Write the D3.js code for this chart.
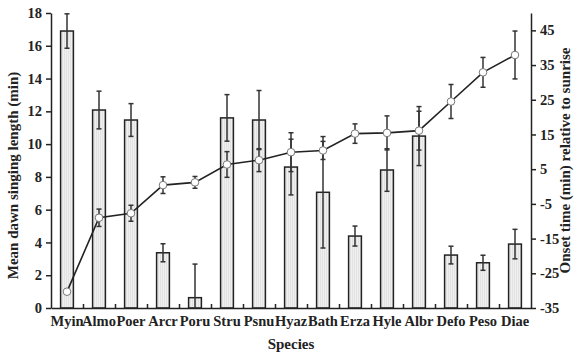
<!DOCTYPE html>
<html>
<head>
<meta charset="utf-8">
<script src="https://cdn.jsdelivr.net/npm/d3@7"></script>
<style>
  body { margin: 0; background: #fff; }
  svg text { font-family: 'Liberation Serif', 'Times New Roman', serif; font-weight: bold; fill: #222; }
</style>
</head>
<body>
<div id="chart"></div>
<script>
const species = ['Myin', 'Almo', 'Poer', 'Arcr', 'Poru', 'Stru', 'Psnu', 'Hyaz', 'Bath', 'Erza', 'Hyle', 'Albr', 'Defo', 'Peso', 'Diae']
// mean dawn singing length (min), left axis
const singLength = [16.9, 12.08, 11.47, 3.37, 0.63, 11.6, 11.47, 8.6, 7.06, 4.39, 8.42, 10.49, 3.23, 2.76, 3.9]
const singLengthErr = [1.05, 1.15, 1.0, 0.55, 2.05, 1.42, 1.8, 1.7, 3.4, 0.61, 1.3, 1.8, 0.54, 0.46, 0.9]
// onset time (min) relative to sunrise, right axis
const onset = [-30.3, -9.0, -7.7, 0.4, 1.2, 6.35, 7.6, 9.9, 10.4, 15.25, 15.45, 16.1, 24.5, 32.9, 37.9]
const onsetErr = [0, 2.5, 2.3, 2.4, 1.7, 3.7, 3.3, 5.6, 2.6, 2.8, 4.9, 5.6, 4.9, 4.3, 6.9]
const leftTicks = [0, 2, 4, 6, 8, 10, 12, 14, 16, 18]
const rightTicks = [-35, -25, -15, -5, 5, 15, 25, 35, 45]

const width = 574
const height = 353
const margin = { top: 13, right: 43, bottom: 45, left: 51 }
const bottom = height - margin.bottom
const ink = '#222'

const svg = d3.select('#chart')
  .append('svg')
  .attr('width', width)
  .attr('height', height)

const defs = svg.append('defs')
const pat = defs.append('pattern')
  .attr('id', 'stripes')
  .attr('patternUnits', 'userSpaceOnUse')
  .attr('width', 2)
  .attr('height', 4)
pat.append('rect').attr('width', 2).attr('height', 4).attr('fill', '#f0f0f0')
pat.append('rect').attr('width', 1).attr('height', 4).attr('fill', '#e2e2e2')

const x = d3.scaleBand()
  .domain(species)
  .range([margin.left, width - margin.right])

const yL = d3.scaleLinear().domain([0, 18]).range([bottom, margin.top])
const yR = d3.scaleLinear().domain([-35, 50]).range([bottom, margin.top])

const barW = x.bandwidth() * 0.4
const cx = d => x(d) + x.bandwidth() / 2
const cap = 2.5

const data = species.map((s, i) => ({
  s, bar: singLength[i], barErr: singLengthErr[i], onset: onset[i], onsetErr: onsetErr[i]
}))

// bars
svg.append('g')
  .selectAll('rect')
  .data(data)
  .join('rect')
  .attr('x', d => cx(d.s) - barW / 2)
  .attr('width', barW)
  .attr('y', d => yL(d.bar))
  .attr('height', d => bottom - yL(d.bar))
  .attr('fill', 'url(#stripes)')
  .attr('stroke', ink)
  .attr('stroke-width', 1.5)

function errorBars(g, items, lo, hi) {
  const e = g.selectAll('g')
    .data(items)
    .join('g')
    .attr('stroke', '#333')
    .attr('stroke-width', 1.5)
  e.append('line')
    .attr('x1', d => cx(d.s)).attr('x2', d => cx(d.s))
    .attr('y1', lo).attr('y2', hi)
  e.append('line')
    .attr('x1', d => cx(d.s) - cap).attr('x2', d => cx(d.s) + cap)
    .attr('y1', hi).attr('y2', hi)
  e.filter(d => lo(d) < bottom - 0.5).append('line')
    .attr('x1', d => cx(d.s) - cap).attr('x2', d => cx(d.s) + cap)
    .attr('y1', lo).attr('y2', lo)
}

svg.append('g').call(errorBars, data,
  d => yL(Math.max(0, d.bar - d.barErr)),
  d => yL(d.bar + d.barErr))

// onset line
svg.append('path')
  .datum(data)
  .attr('fill', 'none')
  .attr('stroke', ink)
  .attr('stroke-width', 1.6)
  .attr('d', d3.line().x(d => cx(d.s)).y(d => yR(d.onset)))

svg.append('g').call(errorBars, data.filter(d => d.onsetErr > 0),
  d => yR(d.onset - d.onsetErr),
  d => yR(d.onset + d.onsetErr))

svg.append('g')
  .selectAll('circle')
  .data(data)
  .join('circle')
  .attr('cx', d => cx(d.s))
  .attr('cy', d => yR(d.onset))
  .attr('r', 3.8)
  .attr('fill', '#fff')
  .attr('stroke', '#777')
  .attr('stroke-width', 1)

// axes
const styleAxis = g => g
  .call(g => g.selectAll('.domain, line').attr('stroke', ink).attr('stroke-width', 1.5))
  .call(g => g.selectAll('text').attr('font-size', 14.5).style('font-family', null))

svg.append('g')
  .attr('transform', `translate(${margin.left},0)`)
  .call(d3.axisLeft(yL).tickValues(leftTicks).tickSize(5).tickSizeOuter(0).tickPadding(4))
  .call(styleAxis)

svg.append('g')
  .attr('transform', `translate(${width - margin.right},0)`)
  .call(d3.axisRight(yR).tickValues(rightTicks).tickSize(5).tickSizeOuter(0).tickPadding(4)
    .tickFormat(d => String(d)))
  .call(styleAxis)

const xi = d3.scaleLinear().domain([0, species.length]).range([margin.left, width - margin.right])
svg.append('g')
  .attr('transform', `translate(0,${bottom})`)
  .call(d3.axisBottom(xi).tickValues(d3.range(1, species.length)).tickSize(-4).tickSizeOuter(0).tickFormat(''))
  .call(styleAxis)

svg.append('g')
  .attr('transform', `translate(0,${bottom})`)
  .call(d3.axisBottom(x).tickSize(0).tickPadding(8))
  .call(g => g.select('.domain').remove())
  .call(styleAxis)

// titles
svg.append('text')
  .attr('x', (margin.left + width - margin.right) / 2)
  .attr('y', height - 4)
  .attr('text-anchor', 'middle')
  .attr('font-size', 15)
  .text('Species')

svg.append('text')
  .attr('transform', `translate(18,${(margin.top + bottom) / 2 + 15}) rotate(-90)`)
  .attr('text-anchor', 'middle')
  .attr('font-size', 15)
  .text('Mean dawn singing length (min)')

svg.append('text')
  .attr('transform', `translate(570,${(margin.top + bottom) / 2}) rotate(-90)`)
  .attr('text-anchor', 'middle')
  .attr('font-size', 15)
  .text('Onset time (min) relative to sunrise')
</script>
</body>
</html>
